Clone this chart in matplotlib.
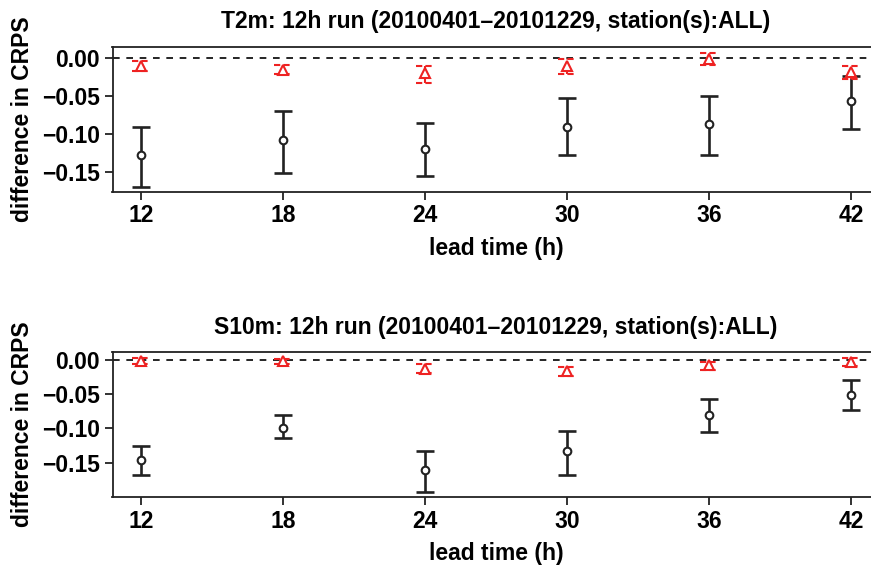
import matplotlib
matplotlib.use('Agg')
from matplotlib import pyplot as plt

plt.rcParams['font.family'] = ['Liberation Sans', 'DejaVu Sans']
plt.rcParams['font.weight'] = 'bold'

lead = [12, 18, 24, 30, 36, 42]   # lead time (h)

# T2m panel
t2m_black = [-0.128, -0.107, -0.119, -0.090, -0.086, -0.056]
t2m_black_hi = [-0.090, -0.070, -0.085, -0.053, -0.050, -0.023]
t2m_black_lo = [-0.170, -0.151, -0.155, -0.127, -0.127, -0.093]
t2m_red = [-0.010, -0.015, -0.020, -0.010, -0.001, -0.018]
t2m_red_hi = [-0.004, -0.009, -0.010, -0.001, 0.007, -0.010]
t2m_red_lo = [-0.017, -0.021, -0.033, -0.021, -0.009, -0.028]

# S10m panel
s10m_black = [-0.146, -0.099, -0.161, -0.133, -0.080, -0.051]
s10m_black_hi = [-0.125, -0.081, -0.133, -0.103, -0.057, -0.030]
s10m_black_lo = [-0.168, -0.114, -0.192, -0.167, -0.105, -0.073]
s10m_red = [-0.002, -0.002, -0.014, -0.017, -0.008, -0.004]
s10m_red_hi = [0.002, 0.001, -0.007, -0.011, -0.004, 0.002]
s10m_red_lo = [-0.007, -0.006, -0.020, -0.024, -0.015, -0.010]

titles = ['T2m: 12h run (20100401\u201320101229, station(s):ALL)',
          'S10m: 12h run (20100401\u201320101229, station(s):ALL)']
yticks = [0.0, -0.05, -0.10, -0.15]
ytick_labels = ['0.00', '\u22120.05', '\u22120.10', '\u22120.15']

panels = [
    (t2m_black, t2m_black_lo, t2m_black_hi, t2m_red, t2m_red_lo, t2m_red_hi, (-0.1754, 0.0154)),
    (s10m_black, s10m_black_lo, s10m_black_hi, s10m_red, s10m_red_lo, s10m_red_hi, (-0.1995, 0.0105)),
]

fig = plt.figure(figsize=(8.71, 5.66), dpi=100)
W, H = 871.0, 566.0
boxes = [(112.5, 46.5, 879.5, 191.5), (112.5, 352.3, 879.5, 497.0)]  # px l, t, r, b

cap = 0.38  # half cap width in hours
for (bm, blo, bhi, rm, rlo, rhi, ylim), box, title in zip(panels, boxes, titles):
    l, t, r, b = box
    ax = fig.add_axes([l / W, 1 - b / H, (r - l) / W, (b - t) / H])

    ax.axhline(0, color='black', linestyle=(0, (4, 4)), linewidth=1.2, zorder=1)

    # black: solid error bars with open circles
    ax.vlines(lead, blo, bhi, color='#222222', linewidth=1.9)
    ax.hlines(blo, [x - cap for x in lead], [x + cap for x in lead], color='#222222', linewidth=1.9)
    ax.hlines(bhi, [x - cap for x in lead], [x + cap for x in lead], color='#222222', linewidth=1.9)
    ax.plot(lead, bm, linestyle='none', marker='o', markersize=5.5, markerfacecolor='white',
            markeredgecolor='#222222', markeredgewidth=1.5, zorder=3)

    # red: dashed error bars with open triangles
    ax.vlines(lead, rlo, rhi, color='#ee2222', linewidth=1.5, linestyle=(0, (2, 1.5)))
    ax.hlines(rlo, [x - cap for x in lead], [x + cap for x in lead], color='#ee2222',
              linewidth=1.5, linestyle=(0, (3, 1.5)))
    ax.hlines(rhi, [x - cap for x in lead], [x + cap for x in lead], color='#ee2222',
              linewidth=1.5, linestyle=(0, (3, 1.5)))
    ax.plot(lead, rm, linestyle='none', marker='^', markersize=6.5, markerfacecolor='white',
            markeredgecolor='#ee2222', markeredgewidth=1.5, zorder=3)

    ax.set_xlim(10.8, 43.2)
    ax.set_ylim(*ylim)
    ax.set_xticks(lead)
    ax.set_xticklabels([str(x) for x in lead], fontsize=16.5, fontweight='bold')
    ax.set_yticks(yticks)
    ax.set_yticklabels(ytick_labels, fontsize=16.5, fontweight='bold')
    ax.tick_params(direction='out', length=6, width=1.3, color='#222222', pad=3)
    for s in ax.spines.values():
        s.set_linewidth(1.3)
        s.set_color('#222222')

    ax.set_title(title, fontsize=16.5, fontweight='bold', pad=13)
    ax.set_xlabel('lead time (h)', fontsize=16.5, fontweight='bold', labelpad=7)
    ax.set_ylabel('difference in CRPS', fontsize=16.5, fontweight='bold', labelpad=6)

fig.savefig('out.png', dpi=100)
